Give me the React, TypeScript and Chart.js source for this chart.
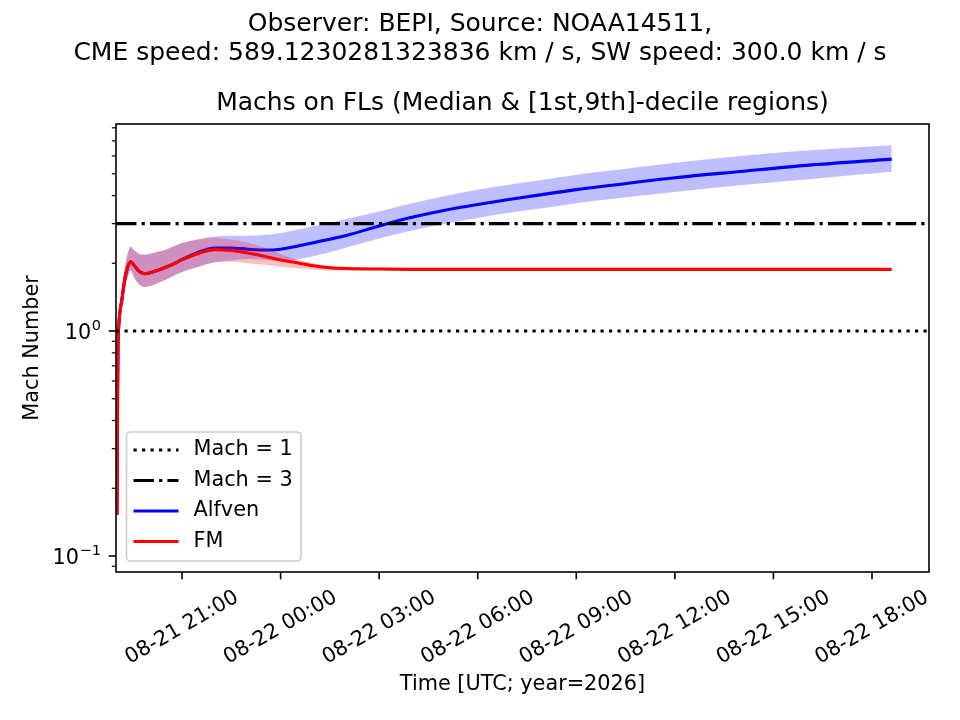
import React, { useRef, useEffect } from "react";
import { Chart, registerables } from "chart.js";

Chart.register(...registerables);

// hours since 2026-08-21 00:00 UTC
const timeHours = [
  19.02, 19.037, 19.052, 19.083, 19.17, 19.27, 19.35, 19.44, 19.55, 19.7,
  19.85, 20.0, 20.25, 20.5, 20.75, 21.0, 21.5, 22.0, 22.5, 23.0, 23.5, 24.0,
  24.5, 25.0, 25.5, 26.0, 27.0, 28.0, 29.0, 30.0, 31.0, 32.0, 33.0, 34.0,
  36.0, 38.0, 40.0, 42.6,
];

const alfvenMedian = [
  0.152, 0.5, 0.85, 1.1, 1.38, 1.74, 1.93, 2.03, 1.95, 1.84, 1.8, 1.81, 1.86,
  1.92, 1.99, 2.08, 2.24, 2.34, 2.34, 2.31, 2.29, 2.31, 2.38, 2.47, 2.56, 2.66,
  2.93, 3.2, 3.44, 3.65, 3.85, 4.05, 4.25, 4.43, 4.8, 5.12, 5.45, 5.81,
];
const alfvenLow = [
  0.148, 0.47, 0.79, 1.02, 1.27, 1.58, 1.74, 1.86, 1.72, 1.61, 1.57, 1.58,
  1.63, 1.69, 1.76, 1.83, 1.93, 2.02, 2.06, 2.09, 2.07, 2.05, 2.08, 2.15, 2.24,
  2.35, 2.58, 2.8, 3.0, 3.18, 3.36, 3.52, 3.7, 3.85, 4.15, 4.45, 4.72, 5.1,
];
const alfvenHigh = [
  0.158, 0.54, 0.92, 1.19, 1.52, 1.95, 2.22, 2.37, 2.28, 2.2, 2.18, 2.2, 2.25,
  2.3, 2.38, 2.46, 2.56, 2.63, 2.65, 2.65, 2.67, 2.73, 2.82, 2.92, 3.04, 3.15,
  3.4, 3.7, 3.98, 4.24, 4.48, 4.7, 4.95, 5.15, 5.6, 6.0, 6.35, 6.7,
];

const fmMedian = [
  0.152, 0.5, 0.85, 1.1, 1.38, 1.74, 1.93, 2.03, 1.95, 1.84, 1.8, 1.81, 1.86,
  1.92, 1.99, 2.07, 2.21, 2.3, 2.28, 2.22, 2.15, 2.07, 2.01, 1.95, 1.91, 1.895,
  1.885, 1.88, 1.88, 1.88, 1.88, 1.88, 1.88, 1.88, 1.88, 1.88, 1.88, 1.88,
];
const fmLow = [
  0.148, 0.47, 0.79, 1.02, 1.27, 1.58, 1.74, 1.86, 1.72, 1.61, 1.57, 1.58,
  1.63, 1.69, 1.76, 1.83, 1.93, 2.02, 2.03, 2.0, 1.97, 1.93, 1.9, 1.87, 1.86,
  1.86, 1.865, 1.865, 1.865, 1.865, 1.865, 1.865, 1.865, 1.865, 1.865, 1.865,
  1.865, 1.865,
];
const fmHigh = [
  0.158, 0.54, 0.92, 1.19, 1.52, 1.95, 2.22, 2.37, 2.28, 2.2, 2.18, 2.2, 2.25,
  2.3, 2.38, 2.46, 2.55, 2.6, 2.55, 2.47, 2.35, 2.2, 2.08, 2.0, 1.95, 1.93,
  1.91, 1.895, 1.895, 1.895, 1.895, 1.895, 1.895, 1.895, 1.895, 1.895, 1.895,
  1.895,
];

const machLevels = [1, 3];

const xRange = [18.99, 43.735];
const yRange = [0.0849, 8.32];

const xTickHours = [21, 24, 27, 30, 33, 36, 39, 42];
const xTickLabels = [
  "08-21 21:00",
  "08-22 00:00",
  "08-22 03:00",
  "08-22 06:00",
  "08-22 09:00",
  "08-22 12:00",
  "08-22 15:00",
  "08-22 18:00",
];
const yMajorTicks = [0.1, 1];
const yMajorExponents = ["\u22121", "0"];
const yMinorTicks = [
  0.09, 0.2, 0.3, 0.4, 0.5, 0.6, 0.7, 0.8, 0.9, 2, 3, 4, 5, 6, 7, 8,
];

const titleLines = [
  "Observer: BEPI, Source: NOAA14511,",
  "CME speed: 589.1230281323836 km / s, SW speed: 300.0 km / s",
];
const axesTitle = "Machs on FLs (Median & [1st,9th]-decile regions)";
const xTitle = "Time [UTC; year=2026]";
const yTitle = "Mach Number";
const legendOrder = ["Mach = 1", "Mach = 3", "Alfven", "FM"];

const FAMILY = '"DejaVu Sans", sans-serif';
const LABEL_FONT = `20.8px ${FAMILY}`;
const TITLE_FONT = `25px ${FAMILY}`;
const DOTTED = [3.2, 5.3];
const DASHDOT = [20.5, 5.1, 3.2, 5.1];

const pts = (ys: number[]) => timeHours.map((t, i) => ({ x: t, y: ys[i] }));
const hline = (v: number) => [
  { x: xRange[0], y: v },
  { x: xRange[1], y: v },
];

const seg = (ctx: CanvasRenderingContext2D, x1: number, y1: number, x2: number, y2: number) => {
  ctx.beginPath();
  ctx.moveTo(x1, y1);
  ctx.lineTo(x2, y2);
  ctx.stroke();
};

const decor = {
  id: "decor",
  afterDraw(chart: any) {
    const { ctx, chartArea: a, scales } = chart;
    const xs = scales.x;
    const ys = scales.y;
    ctx.save();
    ctx.fillStyle = "#000";
    ctx.strokeStyle = "#000";

    // frame
    ctx.lineWidth = 1.6;
    ctx.strokeRect(a.left, a.top, a.right - a.left, a.bottom - a.top);

    // x ticks + rotated labels (centred under the tick, like matplotlib)
    ctx.font = LABEL_FONT;
    xTickHours.forEach((h, i) => {
      const px = xs.getPixelForValue(h);
      ctx.lineWidth = 1.6;
      seg(ctx, px, a.bottom, px, a.bottom + 7.3);
      const w = ctx.measureText(xTickLabels[i]).width;
      const th = 23;
      const bh = w * 0.5 + th * 0.866;
      ctx.save();
      ctx.translate(px, a.bottom + 14 + bh / 2);
      ctx.rotate(-Math.PI / 6);
      ctx.textAlign = "center";
      ctx.textBaseline = "middle";
      ctx.fillText(xTickLabels[i], 0, 0);
      ctx.restore();
    });

    // y ticks
    ctx.lineWidth = 1.2;
    yMinorTicks.forEach((v) => {
      const py = ys.getPixelForValue(v);
      seg(ctx, a.left - 4.2, py, a.left, py);
    });
    ctx.lineWidth = 1.6;
    yMajorTicks.forEach((v, i) => {
      const py = ys.getPixelForValue(v);
      seg(ctx, a.left - 7.3, py, a.left, py);
      const base = py + 7.5;
      ctx.textAlign = "right";
      ctx.textBaseline = "alphabetic";
      ctx.font = `14.6px ${FAMILY}`;
      const supW = ctx.measureText(yMajorExponents[i]).width;
      const right = a.left - 15;
      ctx.fillText(yMajorExponents[i], right, base - 9);
      ctx.font = LABEL_FONT;
      ctx.fillText("10", right - supW - 0.5, base);
    });

    // axis titles
    ctx.font = LABEL_FONT;
    ctx.textAlign = "center";
    ctx.textBaseline = "middle";
    ctx.fillText(xTitle, (a.left + a.right) / 2, 685);
    ctx.save();
    ctx.translate(33, (a.top + a.bottom) / 2);
    ctx.rotate(-Math.PI / 2);
    ctx.fillText(yTitle, 0, 0);
    ctx.restore();

    // figure + axes titles
    ctx.font = TITLE_FONT;
    titleLines.forEach((t, i) => ctx.fillText(t, chart.width / 2, 24 + i * 29));
    ctx.fillText(axesTitle, (a.left + a.right) / 2, 103);

    // legend
    const bx = a.left + 10.5;
    const by = a.bottom - 140;
    const bw = 174.5;
    const bhh = 129;
    ctx.beginPath();
    ctx.roundRect(bx, by, bw, bhh, 4);
    ctx.fillStyle = "rgba(255,255,255,0.8)";
    ctx.fill();
    ctx.strokeStyle = "#cccccc";
    ctx.lineWidth = 1.6;
    ctx.stroke();
    legendOrder.forEach((name, i) => {
      const ds = chart.data.datasets.find((d: any) => d.label === name);
      const ry = by + 18 + i * 30.5;
      ctx.strokeStyle = ds.borderColor;
      ctx.lineWidth = ds.borderWidth;
      ctx.setLineDash(ds.borderDash || []);
      seg(ctx, bx + 7, ry, bx + 52, ry);
      ctx.setLineDash([]);
      ctx.fillStyle = "#000";
      ctx.font = LABEL_FONT;
      ctx.textAlign = "left";
      ctx.textBaseline = "middle";
      ctx.fillText(name, bx + 67, ry);
    });

    ctx.restore();
  },
};

const MachChart = () => {
  const chartRef = useRef<HTMLCanvasElement | null>(null);
  const chartInstanceRef = useRef<Chart | null>(null);

  useEffect(() => {
    document.body.style.margin = "0";
    if (chartInstanceRef.current) {
      chartInstanceRef.current.destroy();
    }
    const ctx = chartRef.current?.getContext("2d");
    if (!ctx) return;

    const band = {
      borderWidth: 0,
      pointRadius: 0,
      cubicInterpolationMode: "monotone" as const,
    };

    chartInstanceRef.current = new Chart(ctx, {
      type: "line",
      data: {
        datasets: [
          { ...band, data: pts(alfvenLow), fill: false, order: 6 },
          {
            ...band,
            data: pts(alfvenHigh),
            fill: 0,
            backgroundColor: "rgba(0,0,255,0.25)",
            order: 6,
          },
          {
            label: "Alfven",
            data: pts(alfvenMedian),
            borderColor: "#0000ff",
            borderWidth: 3.1,
            pointRadius: 0,
            fill: false,
            cubicInterpolationMode: "monotone",
            order: 5,
          },
          { ...band, data: pts(fmLow), fill: false, order: 4 },
          {
            ...band,
            data: pts(fmHigh),
            fill: 3,
            backgroundColor: "rgba(255,0,0,0.25)",
            order: 4,
          },
          {
            label: "FM",
            data: pts(fmMedian),
            borderColor: "#ff0000",
            borderWidth: 3.1,
            pointRadius: 0,
            fill: false,
            cubicInterpolationMode: "monotone",
            order: 3,
          },
          {
            label: "Mach = 1",
            data: hline(machLevels[0]),
            borderColor: "#000000",
            borderWidth: 3.2,
            borderDash: DOTTED,
            pointRadius: 0,
            fill: false,
            order: 1,
          },
          {
            label: "Mach = 3",
            data: hline(machLevels[1]),
            borderColor: "#000000",
            borderWidth: 3.2,
            borderDash: DASHDOT,
            pointRadius: 0,
            fill: false,
            order: 2,
          },
        ],
      },
      options: {
        responsive: false,
        animation: false,
        layout: { padding: { left: 116, right: 31, top: 124, bottom: 148 } },
        scales: {
          x: { type: "linear", display: false, min: xRange[0], max: xRange[1] },
          y: {
            type: "logarithmic",
            display: false,
            min: yRange[0],
            max: yRange[1],
          },
        },
        plugins: {
          legend: { display: false },
          title: { display: false },
          tooltip: { enabled: false },
        },
      },
      plugins: [decor],
    });

    return () => {
      if (chartInstanceRef.current) {
        chartInstanceRef.current.destroy();
        chartInstanceRef.current = null;
      }
    };
  }, []);

  return (
    <div style={{ width: 960, height: 720, background: "#fff" }}>
      <canvas ref={chartRef} width={960} height={720} />
    </div>
  );
};

export default function App() {
  return <MachChart />;
}
